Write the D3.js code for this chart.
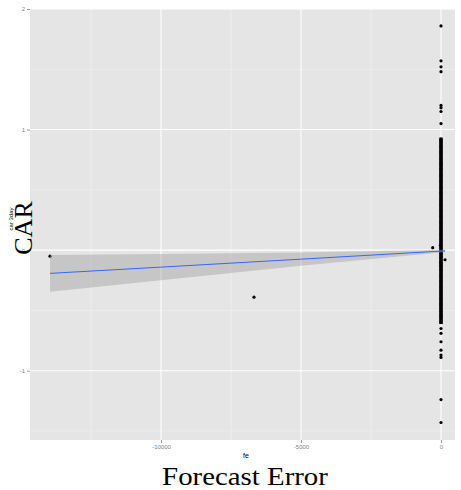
<!DOCTYPE html>
<html><head><meta charset="utf-8">
<script src="https://cdn.jsdelivr.net/npm/d3@7"></script>
<style>body{margin:0;background:#fff}svg{display:block}</style>
</head><body><svg id="c" width="461" height="490"></svg>
<script>
// ---- data ----
const xTicks = [-10000, -5000, 0];
const xTickLabels = ["-10000", "-5000", "0"];
const yTicks = [2, 1, 0, -1];
const yTickLabels = ["2", "1", "0", "-1"];
const xMinor = [-12500, -7500, -2500];
const yMinor = [1.5, 0.5, -0.5, -1.5];

// scattered points (fe, car)
const outX = [-13964, -6679, -296, 143, 0, 0, 0, 0, 0, 0, 0, 0, 0, 0, 0, 0, 0, 0, 0, 0, -20, 10, 0, 0];
const outY = [-0.05, -0.39, 0.02, -0.08, 1.86, 1.57, 1.52, 1.48, 1.20, 1.18, 1.15, 1.05, -0.65, -0.69, -0.76, -0.83, -0.87, -0.89, -1.24, -1.43, 0.04, -0.03, -0.10, -0.13];
// dense column of observations near fe = 0
const denseY = [0.92, 0.90, 0.88, 0.86, 0.84, 0.82, 0.80, 0.78, 0.76, 0.74, 0.72, 0.70, 0.68, 0.66, 0.64, 0.62, 0.60,
  0.58, 0.56, 0.54, 0.52, 0.50, 0.48, 0.46, 0.44, 0.42, 0.40, 0.38, 0.36, 0.34, 0.32, 0.30, 0.28, 0.26, 0.24,
  0.22, 0.20, 0.18, 0.16, 0.14, 0.12, 0.10, 0.08, 0.06, 0.04, 0.02, 0.00, -0.02, -0.04, -0.06, -0.08, -0.10,
  -0.12, -0.14, -0.16, -0.18, -0.20, -0.22, -0.24, -0.26, -0.28, -0.30, -0.32, -0.34, -0.36, -0.38, -0.40,
  -0.42, -0.44, -0.46, -0.48, -0.50, -0.52, -0.54, -0.56, -0.58, -0.60];

// linear fit with confidence band
const fitX = [-13964, -10000, -5000, 0, 143];
const fitY = [-0.193, -0.141, -0.075, -0.008, -0.006];
const fitLo = [-0.345, -0.250, -0.130, -0.020, -0.019];
const fitHi = [-0.041, -0.032, -0.020, 0.004, 0.007];

// ---- layout ----
const svg = d3.select("#c");
const L = 30, R = 455, T = 9, B = 440;
const x = d3.scaleLinear().domain([-14679, 500]).range([L, R]);
const y = d3.scaleLinear().domain([-1.575, 2.0]).range([B, T]);

svg.append("rect").attr("x", L).attr("y", T).attr("width", R - L).attr("height", B - T).attr("fill", "#e5e5e5");

// minor grid
svg.append("g").selectAll("line").data(xMinor).join("line")
  .attr("x1", d => x(d)).attr("x2", d => x(d)).attr("y1", T).attr("y2", B)
  .attr("stroke", "#f2f2f2").attr("stroke-width", 0.6);
svg.append("g").selectAll("line").data(yMinor).join("line")
  .attr("y1", d => y(d)).attr("y2", d => y(d)).attr("x1", L).attr("x2", R)
  .attr("stroke", "#f2f2f2").attr("stroke-width", 0.6);
// major grid
svg.append("g").selectAll("line").data(xTicks).join("line")
  .attr("x1", d => x(d)).attr("x2", d => x(d)).attr("y1", T).attr("y2", B)
  .attr("stroke", "#ffffff").attr("stroke-width", 1.1);
svg.append("g").selectAll("line").data(yTicks).join("line")
  .attr("y1", d => y(d)).attr("y2", d => y(d)).attr("x1", L).attr("x2", R)
  .attr("stroke", "#ffffff").attr("stroke-width", 1.1);

// axes
const xAxis = d3.axisBottom(x).tickValues(xTicks).tickFormat((d, i) => xTickLabels[i]).tickSize(3).tickPadding(2);
const gx = svg.append("g").attr("transform", `translate(0,${B})`).call(xAxis);
gx.select(".domain").remove();
gx.selectAll("line").attr("stroke", "#999");
gx.selectAll("text").attr("fill", "#7f7f7f").style("font-family", "Liberation Sans, Arial, sans-serif").style("font-size", "6px");

const yAxis = d3.axisLeft(y).tickValues(yTicks).tickFormat((d, i) => yTickLabels[i]).tickSize(3).tickPadding(2);
const gy = svg.append("g").attr("transform", `translate(${L},0)`).call(yAxis);
gy.select(".domain").remove();
gy.selectAll("line").attr("stroke", "#999");
gy.selectAll("text").attr("fill", "#7f7f7f").style("font-family", "Liberation Sans, Arial, sans-serif").style("font-size", "6px");

// points
const pts = outX.map((d, i) => [d, outY[i]]).concat(denseY.map(v => [0, v]));
svg.append("g").selectAll("circle").data(pts).join("circle")
  .attr("cx", d => x(d[0])).attr("cy", d => y(d[1])).attr("r", 1.6).attr("fill", "#000");
svg.append("g").selectAll("rect").data(denseY).join("rect")
  .attr("x", x(0) - 1.7).attr("y", d => y(d) - 1.6).attr("width", 3.4).attr("height", 3.2).attr("fill", "#000");

// band and fit line
const band = fitX.map((d, i) => ({ x: d, lo: fitLo[i], hi: fitHi[i], f: fitY[i] }));
svg.append("path").datum(band)
  .attr("d", d3.area().x(d => x(d.x)).y0(d => y(d.lo)).y1(d => y(d.hi)))
  .attr("fill", "#999999").attr("fill-opacity", 0.4);
svg.append("path").datum(band)
  .attr("d", d3.line().x(d => x(d.x)).y(d => y(d.f)))
  .attr("fill", "none").attr("stroke", "#3366FF").attr("stroke-width", 1);

// titles
svg.append("text").attr("x", 246).attr("y", 458).attr("text-anchor", "middle").attr("fill", "#000")
  .style("font-family", "Liberation Sans, Arial, sans-serif").style("font-size", "7px").text("fe");
svg.append("text").attr("transform", "translate(245,485) scale(1.11,1)").attr("text-anchor", "middle").attr("fill", "#000")
  .style("font-family", "Liberation Serif, Times New Roman, serif").style("font-size", "26px").text("Forecast Error");
svg.append("text").attr("transform", "translate(13,219) rotate(-90)").attr("text-anchor", "middle").attr("fill", "#000")
  .style("font-family", "Liberation Sans, Arial, sans-serif").style("font-size", "6px").text("car 3day");
svg.append("text").attr("transform", "translate(32,228) rotate(-90)").attr("text-anchor", "middle").attr("fill", "#000")
  .style("font-family", "Liberation Serif, Times New Roman, serif").style("font-size", "26px").text("CAR");
</script></body></html>
